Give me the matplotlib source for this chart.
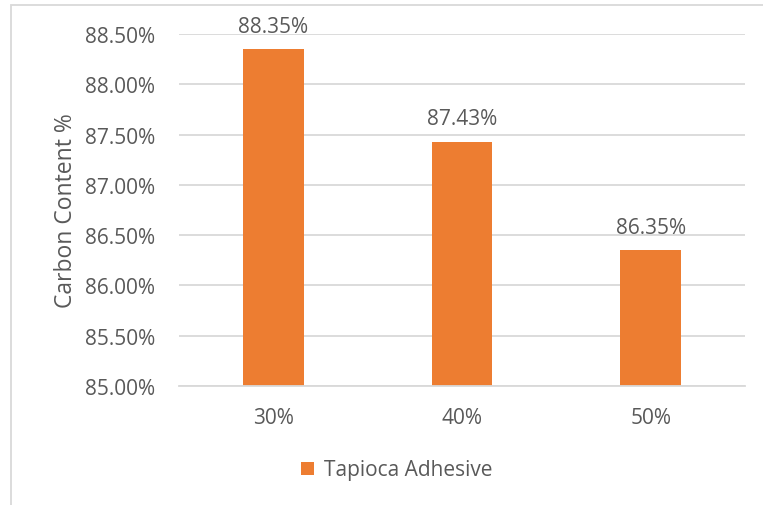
import matplotlib
matplotlib.use("Agg")
import matplotlib.pyplot as plt
from matplotlib.patches import Rectangle
from matplotlib.ticker import FuncFormatter, MultipleLocator

categories = ["30%", "40%", "50%"]
carbon_content = [88.35, 87.43, 86.35]
series_name = "Tapioca Adhesive"

TEXT = "#595959"
GRID = "#d9d9d9"
ORANGE = "#ed7d31"

plt.rcParams["font.family"] = ["Open Sans", "DejaVu Sans"]

fig = plt.figure(figsize=(7.63, 5.06), dpi=100)
fig.patch.set_facecolor("white")

# chart border (clipped on the right and bottom)
fig.add_artist(Rectangle((11 / 763, -0.1), 1.2, 1 - 5.5 / 506 + 0.1,
                         transform=fig.transFigure, fill=False,
                         edgecolor=GRID, linewidth=1.3))

ax = fig.add_axes([179 / 763, 1 - 387 / 506, (745 - 179) / 763, (387 - 35) / 506])

x = range(len(categories))
bars = ax.bar(x, carbon_content, width=0.32, color=ORANGE, label=series_name,
              zorder=3)

ax.set_ylim(85.0, 88.5)
ax.set_xlim(-0.5, len(categories) - 0.5)
ax.yaxis.set_major_locator(MultipleLocator(0.5))
ax.yaxis.set_major_formatter(FuncFormatter(lambda v, _: f"{v:.2f}%"))
ax.set_xticks(list(x))
ax.set_xticklabels(categories)

ax.grid(axis="y", color=GRID, linewidth=1.3, zorder=0)
for side in ("top", "right", "left"):
    ax.spines[side].set_visible(False)
ax.spines["bottom"].set_color(GRID)
ax.spines["bottom"].set_linewidth(1.3)
ax.spines["bottom"].set_zorder(4)

ax.tick_params(axis="both", length=0, labelsize=15, colors=TEXT)
ax.tick_params(axis="y", pad=17)
ax.tick_params(axis="x", pad=15)

ax.set_ylabel("Carbon Content %", fontsize=16.5, color=TEXT, labelpad=5.5)

for b, v in zip(bars, carbon_content):
    ax.annotate(f"{v:.2f}%", (b.get_x() + b.get_width() / 2, v),
                xytext=(0, 9), textcoords="offset points",
                ha="center", va="bottom", fontsize=15, color=TEXT,
                annotation_clip=False)

fig.legend(handles=[bars], labels=[series_name], loc="center",
           bbox_to_anchor=(397 / 763, 1 - 471 / 506), frameon=False,
           fontsize=15, labelcolor=TEXT, handlelength=0.6,
           handleheight=0.6, handletextpad=0.5)

fig.savefig("out.png", dpi=100, facecolor="white")
